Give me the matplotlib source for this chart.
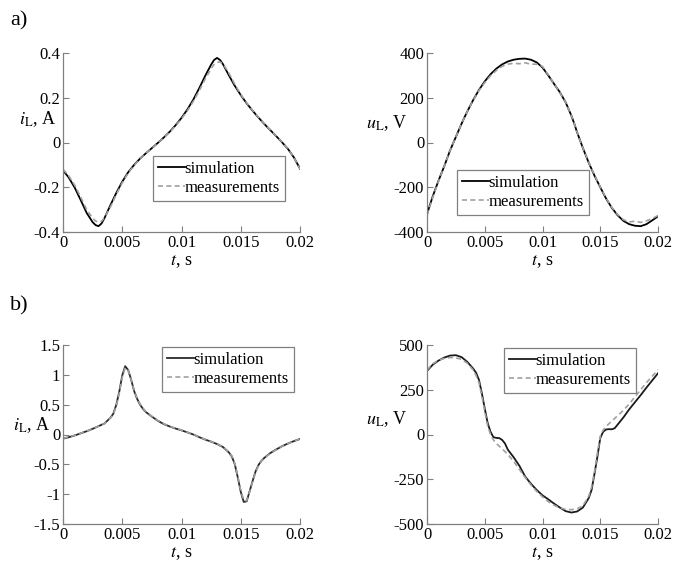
import numpy as np
import matplotlib
matplotlib.use("Agg")
import matplotlib.pyplot as plt

plt.rcParams['font.family'] = 'serif'
plt.rcParams['font.serif'] = ['Liberation Serif', 'DejaVu Serif']
plt.rcParams['mathtext.fontset'] = 'stix'

# ---------------- data ----------------
t_a = [0, 0.0005, 0.001, 0.0015, 0.002, 0.0025, 0.00275, 0.003, 0.00325, 0.0035, 0.004, 0.0045,
       0.005, 0.0055, 0.006, 0.0065, 0.007, 0.0075, 0.008, 0.0085, 0.009, 0.0095,
       0.01, 0.0105, 0.011, 0.0115, 0.012, 0.0125, 0.01275, 0.013, 0.01325, 0.0135, 0.014, 0.0145,
       0.015, 0.0155, 0.016, 0.0165, 0.017, 0.0175, 0.018, 0.0185, 0.019, 0.0195, 0.02]

sim_a_i = [-0.124, -0.158, -0.203, -0.258, -0.315, -0.356, -0.369, -0.374, -0.362, -0.338, -0.280, -0.225,
           -0.175, -0.133, -0.100, -0.072, -0.048, -0.025, -0.002, 0.022, 0.048, 0.077,
           0.110, 0.148, 0.192, 0.243, 0.298, 0.348, 0.369, 0.378, 0.369, 0.350, 0.300, 0.253,
           0.212, 0.175, 0.142, 0.111, 0.082, 0.055, 0.028, 0.000, -0.030, -0.068, -0.117]
meas_a_i = [-0.120, -0.150, -0.192, -0.245, -0.300, -0.338, -0.351, -0.356, -0.352, -0.336, -0.288, -0.232,
            -0.180, -0.136, -0.102, -0.073, -0.048, -0.025, -0.002, 0.022, 0.047, 0.075,
            0.106, 0.142, 0.184, 0.232, 0.284, 0.330, 0.349, 0.358, 0.360, 0.352, 0.310, 0.260,
            0.215, 0.177, 0.143, 0.112, 0.083, 0.056, 0.029, 0.001, -0.030, -0.068, -0.118]

sim_a_u = [-320, -240, -170, -105, -35, 25, 55, 85, 113, 140, 190, 235,
           273, 305, 330, 349, 362, 370, 374, 375, 370, 358,
           335, 300, 262, 225, 180, 120, 84, 45, 10, -25, -90, -148,
           -200, -250, -292, -325, -350, -365, -372, -374, -365, -348, -330]
meas_a_u = [-325, -245, -172, -105, -35, 25, 55, 85, 113, 140, 188, 232,
            268, 298, 322, 340, 350, 354, 352, 356, 350, 350,
            340, 302, 262, 224, 180, 120, 84, 45, 10, -25, -88, -146,
            -198, -248, -290, -322, -345, -355, -352, -357, -350, -340, -326]

t_b = [0, 0.0005, 0.001, 0.0015, 0.002, 0.0025, 0.003, 0.0035, 0.004,
       0.00425, 0.0045, 0.00475, 0.005, 0.00525, 0.0055, 0.00575, 0.006, 0.00625, 0.0065, 0.00675, 0.007,
       0.0075, 0.008, 0.0085, 0.009, 0.0095, 0.01, 0.0105, 0.011, 0.0115, 0.012, 0.0125, 0.013, 0.0135, 0.014,
       0.01425, 0.0145, 0.01475, 0.015, 0.01525, 0.0155, 0.01575, 0.016, 0.01625, 0.0165, 0.01675, 0.017,
       0.0175, 0.018, 0.0185, 0.019, 0.0195, 0.02]

sim_b_i = [-0.070, -0.045, -0.015, 0.020, 0.055, 0.095, 0.140, 0.185, 0.280,
           0.350, 0.500, 0.720, 0.990, 1.145, 1.080, 0.920, 0.730, 0.600, 0.500, 0.430, 0.375,
           0.300, 0.230, 0.175, 0.135, 0.100, 0.070, 0.035, 0.000, -0.045, -0.085, -0.120, -0.160, -0.210, -0.300,
           -0.370, -0.500, -0.720, -0.960, -1.130, -1.120, -0.950, -0.780, -0.620, -0.510, -0.440, -0.390,
           -0.310, -0.250, -0.195, -0.150, -0.110, -0.075]
meas_b_i = [-0.065, -0.040, -0.012, 0.022, 0.057, 0.097, 0.140, 0.185, 0.275,
            0.340, 0.480, 0.700, 0.960, 1.120, 1.075, 0.925, 0.740, 0.610, 0.510, 0.440, 0.380,
            0.305, 0.235, 0.180, 0.138, 0.103, 0.072, 0.037, 0.002, -0.043, -0.083, -0.118, -0.158, -0.208, -0.295,
            -0.360, -0.490, -0.700, -0.940, -1.100, -1.110, -0.960, -0.790, -0.630, -0.520, -0.445, -0.395,
            -0.315, -0.255, -0.198, -0.152, -0.112, -0.072]

sim_b_u = [355, 390, 413, 430, 441, 443, 432, 405, 368,
           345, 305, 230, 145, 65, 15, -15, -19, -20, -30, -50, -85,
           -127, -175, -235, -275, -310, -340, -362, -386, -408, -428, -436, -430, -408, -355,
           -310, -220, -125, -20, 15, 28, 30, 29, 35, 55, 75, 95,
           140, 180, 220, 262, 302, 342]
meas_b_u = [360, 395, 415, 425, 430, 428, 420, 398, 360,
            330, 290, 215, 130, 50, 0, -30, -50, -65, -80, -95, -112,
            -150, -195, -240, -282, -318, -348, -375, -395, -410, -418, -420, -415, -398, -345,
            -295, -210, -105, -10, 25, 45, 60, 75, 90, 105, 120, 135,
            170, 210, 250, 290, 325, 362]

x_ticks = [0, 0.005, 0.01, 0.015, 0.02]
x_ticklabels = ['0', '0.005', '0.01', '0.015', '0.02']
yt_a_i = [-0.4, -0.2, 0, 0.2, 0.4]
ytl_a_i = ['-0.4', '-0.2', '0', '0.2', '0.4']
yt_a_u = [-400, -200, 0, 200, 400]
ytl_a_u = ['-400', '-200', '0', '200', '400']
yt_b_i = [-1.5, -1, -0.5, 0, 0.5, 1, 1.5]
ytl_b_i = ['-1.5', '-1', '-0.5', '0', '0.5', '1', '1.5']
yt_b_u = [-500, -250, 0, 250, 500]
ytl_b_u = ['-500', '-250', '0', '250', '500']

labels = ['simulation', 'measurements']

# ---------------- figure ----------------
W, H = 688, 564
fig = plt.figure(figsize=(W / 100, H / 100), dpi=100)
FS = 12
SPINE = '#808080'


def px_axes(x0, x1, ytop, ybot):
    return fig.add_axes([x0 / W, 1 - ybot / H, (x1 - x0) / W, (ybot - ytop) / H])


def style(ax, yt, ytl, ylabel, ylab_pos):
    for s in ['top', 'right']:
        ax.spines[s].set_visible(False)
    for s in ['left', 'bottom']:
        ax.spines[s].set_color(SPINE)
        ax.spines[s].set_linewidth(0.9)
    ax.set_xlim(0, 0.02)
    ax.set_ylim(yt[0], yt[-1])
    ax.set_xticks(x_ticks)
    ax.set_xticklabels(x_ticklabels)
    ax.set_yticks(yt)
    ax.set_yticklabels(ytl)
    ax.tick_params(direction='in', length=4, width=0.8, color=SPINE,
                   labelsize=FS, pad=2)
    ax.set_xlabel(r'$t$, s', fontsize=FS + 1)
    ax.xaxis.set_label_coords(0.5, -0.115)
    ax.xaxis.label.set_verticalalignment('top')
    ax.text(ylab_pos[0], ylab_pos[1], ylabel, transform=ax.transAxes,
            ha='right', va='center', fontsize=FS + 1)


def legend(ax, anchor, loc):
    leg = ax.legend(labels, loc=loc, bbox_to_anchor=anchor, borderaxespad=0,
                    fontsize=FS, handlelength=1.6, handletextpad=0.0,
                    borderpad=0.3, labelspacing=0.2, fancybox=False,
                    framealpha=1, edgecolor=SPINE)
    leg.get_frame().set_linewidth(0.9)


def draw(ax, t, sim, meas, sim_color):
    ax.plot(t, sim, color=sim_color, lw=1.3, solid_joinstyle='round')
    ax.plot(t, meas, color='#a0a0a0', lw=1.2, ls=(0, (3, 2)))


# a) left
ax1 = px_axes(63, 300, 53, 232)
draw(ax1, t_a, sim_a_i, meas_a_i, 'black')
style(ax1, yt_a_i, ytl_a_i, r'$i_{\mathrm{L}}$, A', (-0.03, 0.63))
legend(ax1, (0.38, 0.173), 'lower left')

# a) right
ax2 = px_axes(427, 658, 53, 232)
draw(ax2, t_a, sim_a_u, meas_a_u, 'black')
style(ax2, yt_a_u, ytl_a_u, r'$u_{\mathrm{L}}$, V', (-0.085, 0.61))
legend(ax2, (0.13, 0.095), 'lower left')

# b) left
ax3 = px_axes(63, 300, 345, 524)
draw(ax3, t_b, sim_b_i, meas_b_i, '#2a2a2a')
style(ax3, yt_b_i, ytl_b_i, r'$i_{\mathrm{L}}$, A', (-0.055, 0.555))
legend(ax3, (0.418, 0.99), 'upper left')

# b) right
ax4 = px_axes(427, 658, 345, 524)
draw(ax4, t_b, sim_b_u, meas_b_u, '#1a1a1a')
style(ax4, yt_b_u, ytl_b_u, r'$u_{\mathrm{L}}$, V', (-0.085, 0.587))
legend(ax4, (0.333, 0.985), 'upper left')

fig.text(10 / W, 1 - 21 / H, 'a)', fontsize=16, ha='left', va='center')
fig.text(10 / W, 1 - 306 / H, 'b)', fontsize=16, ha='left', va='center')

fig.savefig('out.png', dpi=100)
